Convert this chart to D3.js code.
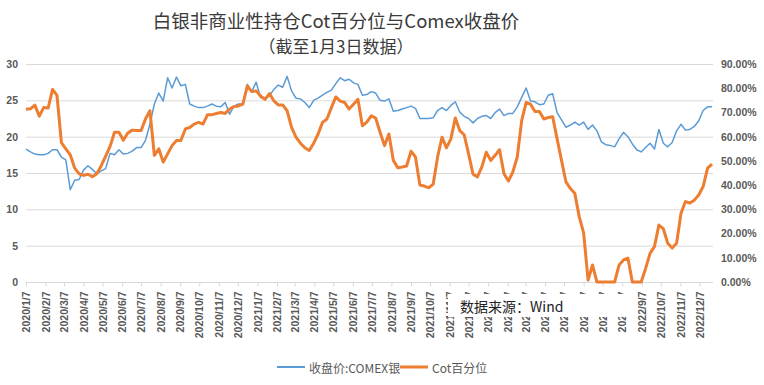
<!DOCTYPE html>
<html>
<head>
<meta charset="utf-8">
<script src="https://cdn.jsdelivr.net/npm/d3@7"></script>
<style>
  html, body { margin: 0; padding: 0; background: #ffffff; }
  svg { display: block; }
</style>
</head>
<body>
<script>
// ---------------- data ----------------
const titleLine1 = "白银非商业性持仓Cot百分位与Comex收盘价";
const titleLine2 = "（截至1月3日数据）";
const seriesNames = ["收盘价:COMEX银", "Cot百分位"];
const sourceText = "数据来源：Wind";

// weekly observations starting 2020/1/7
const firstDate = "2020-01-07";

// Cot percentile (%), right axis
const cotPct = [
  71.3, 71.5, 73.0, 68.5, 72.0, 71.8, 79.5, 77.0, 57.5, 55.0,
  52.5, 47.0, 44.7, 44.0, 44.5, 43.5, 44.7, 48.0, 52.0, 56.0,
  61.8, 61.8, 58.5, 61.5, 62.7, 62.5, 62.5, 67.3, 70.7, 52.3,
  55.0, 49.5, 52.9, 56.3, 58.4, 58.4, 63.2, 63.8, 65.2, 65.9,
  65.2, 69.0, 69.0, 69.6, 70.0, 69.6, 71.4, 72.4, 72.7, 73.4,
  80.9, 78.6, 78.9, 76.8, 75.4, 77.8, 74.8, 73.1, 73.1, 70.7,
  63.8, 59.8, 57.3, 55.4, 54.3, 57.3, 61.1, 65.9, 67.3, 72.0,
  76.4, 74.7, 74.1, 71.4, 73.4, 75.4, 64.5, 66.0, 68.6, 67.7,
  61.8, 56.3, 61.1, 50.2, 47.2, 47.5, 47.9, 54.0, 51.6, 40.0,
  39.6, 38.9, 40.4, 51.6, 59.8, 55.4, 59.1, 67.7, 62.5, 60.8,
  52.9, 44.5, 43.4, 47.5, 53.6, 50.2, 52.3, 54.6, 44.7, 41.7,
  45.4, 51.6, 66.6, 74.1, 73.4, 70.4, 70.4, 67.3, 67.9, 68.2,
  59.1, 50.2, 41.3, 38.6, 36.6, 27.0, 20.2, 0.8, 7.0, 0.0,
  0.0, 0.0, 0.0, 0.0, 7.0, 9.1, 9.9, 0.0, 0.0, 0.0,
  5.6, 11.8, 14.6, 23.5, 22.0, 16.0, 14.0, 16.0, 28.4, 33.2,
  32.6, 33.8, 35.9, 39.4, 47.0, 48.7
];

// COMEX silver close, left axis
const silverClose = [
  18.3, 17.9, 17.6, 17.5, 17.5, 17.7, 18.2, 18.2, 17.2, 16.8,
  12.7, 14.0, 14.1, 15.4, 16.0, 15.5, 14.9, 15.3, 15.6, 17.7,
  17.5, 18.2, 17.6, 17.7, 18.0, 18.5, 18.5, 19.5, 21.7, 24.5,
  26.0, 24.9, 28.1, 26.7, 28.2, 27.0, 27.2, 24.5, 24.2, 24.0,
  24.0, 24.2, 24.5, 24.2, 24.1, 24.7, 23.1, 24.2, 24.5, 24.5,
  27.2, 26.2, 27.5, 25.4, 25.2, 25.6, 26.5, 27.1, 26.8, 28.3,
  26.3, 25.3, 25.2, 24.7, 24.0, 25.0, 25.3, 25.7, 26.1, 26.4,
  27.3, 28.1, 27.7, 27.9, 27.4, 27.2, 25.7, 25.8, 26.2, 26.0,
  25.0, 24.9, 25.2, 23.5, 23.6, 23.8, 24.0, 24.2, 23.9, 22.5,
  22.5, 22.5, 22.6, 23.6, 24.0, 23.6, 24.3, 24.8, 23.4, 22.8,
  22.5, 21.9, 22.5, 22.8, 22.9, 22.5, 23.3, 23.8, 22.9, 23.2,
  23.2, 24.1, 25.4, 26.7, 24.9, 24.8, 24.4, 24.5, 25.7, 25.9,
  23.3, 22.3, 21.3, 21.6, 22.0, 21.6, 22.0, 21.0, 21.6, 20.8,
  19.3, 18.9, 18.8, 18.6, 19.7, 20.6, 20.0, 19.0, 18.2, 17.9,
  18.5, 19.1, 18.3, 21.0, 19.1, 18.6, 19.2, 20.8, 21.7, 20.9,
  21.0, 21.4, 22.2, 23.6, 24.1, 24.1
];

const leftTicks = [0, 5, 10, 15, 20, 25, 30];
const rightTicks = [0, 10, 20, 30, 40, 50, 60, 70, 80, 90];
const xTickLabels = [
  "2020/1/7","2020/2/7","2020/3/7","2020/4/7","2020/5/7","2020/6/7",
  "2020/7/7","2020/8/7","2020/9/7","2020/10/7","2020/11/7","2020/12/7",
  "2021/1/7","2021/2/7","2021/3/7","2021/4/7","2021/5/7","2021/6/7",
  "2021/7/7","2021/8/7","2021/9/7","2021/10/7","2021/11/7","2021/12/7",
  "2022/1/7","2022/2/7","2022/3/7","2022/4/7","2022/5/7","2022/6/7",
  "2022/7/7","2022/8/7","2022/9/7","2022/10/7","2022/11/7","2022/12/7"
];

// ---------------- layout ----------------
const W = 764, H = 385;
const plot = { left: 26, right: 712, top: 64, bottom: 282 };
const colors = { silver: "#5B9BD5", cot: "#ED7D31", grid: "#D9D9D9", axisText: "#595959" };

const parse = d3.timeParse("%Y-%m-%d");
const parseTick = d3.timeParse("%Y/%m/%d");
const start = parse(firstDate);
const dates = cotPct.map((_, i) => d3.timeDay.offset(start, 7 * i));
const tickDates = xTickLabels.map(s => parseTick(s));

const svg = d3.select("body").append("svg")
  .attr("width", W).attr("height", H)
  .style("font-family", "'Liberation Sans', Arial, sans-serif");

svg.append("rect").attr("width", W).attr("height", H).attr("fill", "#fff");

const x = d3.scaleTime().domain([dates[0], dates[dates.length - 1]]).range([plot.left, plot.right]);
const yL = d3.scaleLinear().domain([0, 30]).range([plot.bottom, plot.top]);
const yR = d3.scaleLinear().domain([0, 90]).range([plot.bottom, plot.top]);

// gridlines
svg.append("g").selectAll("line").data(leftTicks.filter(d => d > 0)).join("line")
  .attr("x1", plot.left).attr("x2", plot.right + 1)
  .attr("y1", d => yL(d) + 0.5).attr("y2", d => yL(d) + 0.5)
  .attr("stroke", colors.grid).attr("stroke-width", 1);

// left axis
const gL = svg.append("g").attr("transform", `translate(${plot.left},0)`)
  .call(d3.axisLeft(yL).tickValues(leftTicks).tickSize(0).tickPadding(8));
gL.select(".domain").remove();
gL.selectAll("text").attr("fill", colors.axisText).style("font-size", "10.5px").style("font-weight", "bold");

// right axis
const gR = svg.append("g").attr("transform", `translate(${plot.right},0)`)
  .call(d3.axisRight(yR).tickValues(rightTicks).tickFormat(d => d.toFixed(2) + "%").tickSize(0).tickPadding(9));
gR.select(".domain").remove();
gR.selectAll("text").attr("fill", colors.axisText).style("font-size", "10.5px").style("font-weight", "bold");

// bottom axis
const gB = svg.append("g").attr("transform", `translate(0,${plot.bottom + 0.5})`)
  .call(d3.axisBottom(x).tickValues(tickDates).tickFormat((d, i) => xTickLabels[i]).tickSize(4).tickSizeOuter(0));
gB.select(".domain").attr("stroke", colors.grid).attr("d", `M${plot.left},0H${plot.right + 1}`);
gB.selectAll(".tick line").attr("stroke", colors.grid);
gB.selectAll("text")
  .attr("transform", "rotate(-90)")
  .attr("x", -9).attr("y", 0).attr("dy", "0.35em")
  .style("text-anchor", "end")
  .attr("fill", colors.axisText).style("font-size", "10.5px").style("font-weight", "bold");

// lines
const silverLine = d3.line().x((d, i) => x(dates[i])).y(d => yL(d));
const cotLine = d3.line().x((d, i) => x(dates[i])).y(d => yR(d));

svg.append("path").datum(silverClose)
  .attr("d", silverLine).attr("fill", "none")
  .attr("stroke", colors.silver).attr("stroke-width", 1.5).attr("stroke-linejoin", "round");

svg.append("path").datum(cotPct)
  .attr("d", cotLine).attr("fill", "none")
  .attr("stroke", colors.cot).attr("stroke-width", 3).attr("stroke-linejoin", "round");

// title
const cjk = "'Noto Sans CJK SC', 'Noto Sans', sans-serif";
svg.append("text").attr("x", 336).attr("y", 20).attr("text-anchor", "middle")
  .attr("dominant-baseline", "central")
  .style("font-family", cjk).style("font-size", "18.5px").attr("fill", "#3a3a3a")
  .text(titleLine1);
svg.append("text").attr("x", 336).attr("y", 45).attr("text-anchor", "middle")
  .attr("dominant-baseline", "central")
  .style("font-family", cjk).style("font-size", "17px").attr("fill", "#3a3a3a")
  .text(titleLine2);

// source box covering part of the axis labels
svg.append("rect").attr("x", 448).attr("y", 294).attr("width", 184).attr("height", 23).attr("fill", "#fff");
svg.append("text").attr("x", 460).attr("y", 306).attr("dominant-baseline", "central")
  .style("font-family", cjk).style("font-size", "14px").attr("fill", "#222")
  .text(sourceText);

// legend
const legend = [
  { name: seriesNames[0], color: colors.silver, w: 2, x: 277 },
  { name: seriesNames[1], color: colors.cot, w: 3, x: 400 }
];
const lg = svg.append("g").selectAll("g").data(legend).join("g")
  .attr("transform", d => `translate(${d.x},367)`);
lg.append("line").attr("x1", 0).attr("x2", 28).attr("y1", 0).attr("y2", 0)
  .attr("stroke", d => d.color).attr("stroke-width", d => d.w);
lg.append("text").attr("x", 32).attr("y", 0).attr("dominant-baseline", "central")
  .style("font-family", cjk).style("font-size", "12px").attr("fill", colors.axisText)
  .text(d => d.name);
</script>
</body>
</html>
